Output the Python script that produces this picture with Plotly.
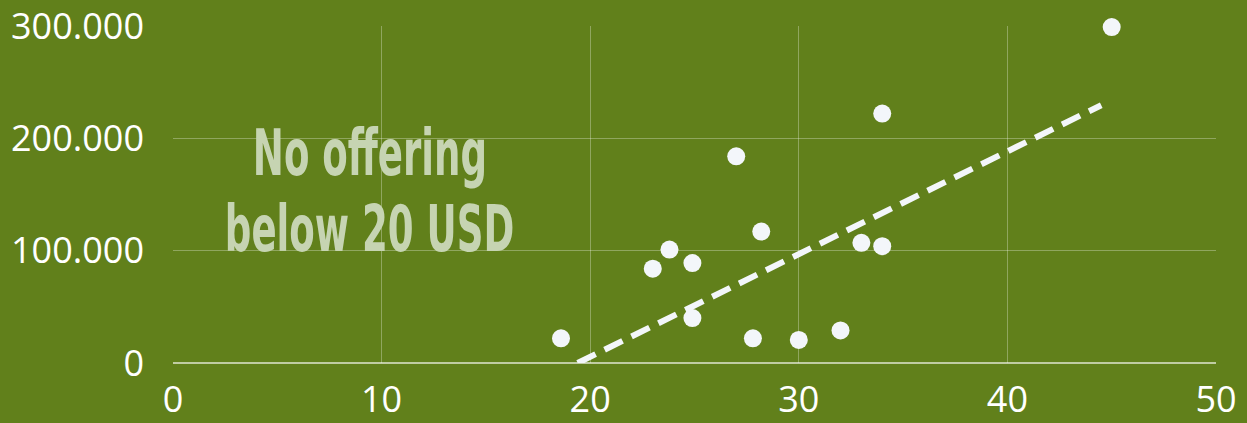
import plotly.graph_objects as go

price_usd = [18.6, 23.0, 23.8, 24.9, 24.9, 27.0, 28.2, 27.8, 30.0, 32.0, 33.0, 34.0, 34.0, 45.0]
volume = [22000, 84000, 101000, 89000, 40000, 184000, 117000, 22000, 20500, 29000, 107000, 222000, 104000, 299000]
trend_x = [19.4, 44.5]
trend_y = [0, 229500]
x_ticks = [0, 10, 20, 30, 40, 50]
y_ticks = [0, 100000, 200000, 300000]
note_lines = ["No offering", "below 20 USD"]
note_y = [187000, 119000]

BG = "#61801b"

fig = go.Figure()
fig.add_trace(go.Scatter(
    x=trend_x, y=trend_y, mode="lines",
    line=dict(color="#f3f6fa", width=6, dash="20px,10px"),
    hoverinfo="skip", showlegend=False, cliponaxis=False,
))
fig.add_trace(go.Scatter(
    x=price_usd, y=volume, mode="markers",
    marker=dict(color="#f3f6fa", size=18, line=dict(width=0)),
    showlegend=False, cliponaxis=False,
))
for txt, yv in zip(note_lines, note_y):
    fig.add_annotation(
        x=9.43, y=yv, xref="x", yref="y", text=txt, showarrow=False,
        font=dict(family="DejaVu Sans", size=64, color="#c6d4b2", weight="bold"),
        align="center",
    )
fig.update_layout(
    width=1247, height=423,
    paper_bgcolor=BG, plot_bgcolor=BG,
    margin=dict(l=173, r=31, t=26, b=60),
    separators=",.",
    font=dict(family="Open Sans", color="white", size=36),
)
fig.update_xaxes(
    range=[0, 50], tickvals=x_ticks, showgrid=True,
    gridcolor="rgba(255,255,255,0.3)", gridwidth=1, zeroline=False,
    showline=False, ticks="", ticklabelstandoff=12, automargin=False,
    tickfont=dict(family="Open Sans", size=36, color="white"),
)
fig.update_yaxes(
    range=[0, 300000], tickvals=y_ticks, tickformat=",d", showgrid=True,
    gridcolor="rgba(255,255,255,0.3)", gridwidth=1,
    zeroline=True, zerolinecolor="rgba(255,255,255,0.6)", zerolinewidth=2,
    showline=False, ticks="", ticklabelstandoff=28, automargin=False,
    tickfont=dict(family="Open Sans", size=36, color="white"),
)

post = """
document.body.style.margin = '0';
document.body.style.overflow = 'hidden';
var gd = document.getElementById('{plot_id}');
gd.querySelectorAll('.annotation-text').forEach(function (t) {
  t.style.transformBox = 'fill-box';
  t.style.transformOrigin = 'center';
  t.style.transform = 'scaleX(0.58)';
});
"""
fig.write_html("out.html", post_script=post, config={"displayModeBar": False})
